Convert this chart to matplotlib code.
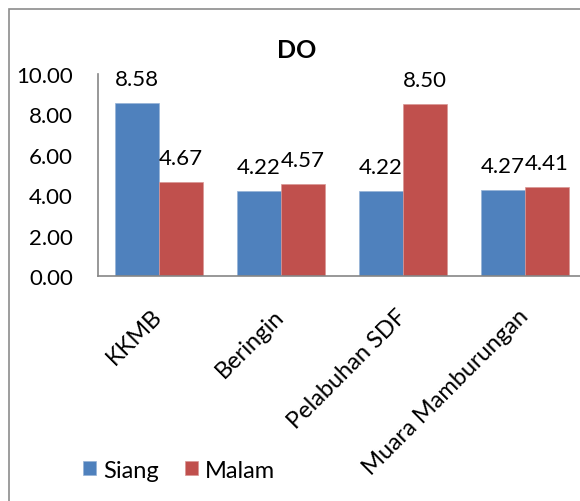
import matplotlib.pyplot as plt
import matplotlib.patches as patches
import numpy as np

plt.rcParams['font.family'] = ['Lato', 'DejaVu Sans']

lokasi = ['KKMB', 'Beringin', 'Pelabuhan SDF', 'Muara Mamburungan']
siang = [8.58, 4.22, 4.22, 4.27]
malam = [4.67, 4.57, 8.50, 4.41]
yticks = [0, 2, 4, 6, 8, 10]

W, H = 580, 502
fig = plt.figure(figsize=(W / 100, H / 100), dpi=100)

# chart frame (cut off on the right and bottom)
frame = patches.Rectangle((9 / W, -0.1), 1.2, 1.1 - 10 / H,
                          transform=fig.transFigure, fill=False,
                          edgecolor='#8c8c8c', linewidth=1.2)
fig.patches.append(frame)

ax = fig.add_axes([98 / W, (H - 277) / H, 488 / W, 202 / H])

x = np.arange(len(lokasi))
w = 0.36
b1 = ax.bar(x - w / 2, siang, w, color='#4F81BD', edgecolor='#95b3d7', linewidth=0.5, label='Siang')
b2 = ax.bar(x + w / 2, malam, w, color='#C0504D', edgecolor='#d99694', linewidth=0.5, label='Malam')

for bars, vals in ((b1, siang), (b2, malam)):
    for bar, v in zip(bars, vals):
        ax.text(bar.get_x() + bar.get_width() / 2, v + 0.7, '%.2f' % v,
                ha='center', va='bottom', fontsize=16)

ax.set_xlim(-0.5, 3.5)
ax.set_ylim(0, 10)
ax.set_yticks(yticks)
ax.set_yticklabels(['%.2f' % t for t in yticks], fontsize=16)
ax.set_xticks(x)
ax.set_xticklabels(lokasi, rotation=45, ha='right', va='center',
                   rotation_mode='anchor', fontsize=17)
ax.tick_params(axis='both', length=0)
ax.tick_params(axis='y', pad=18)
ax.tick_params(axis='x', pad=26)

for s in ('top', 'right'):
    ax.spines[s].set_visible(False)
for s in ('left', 'bottom'):
    ax.spines[s].set_color('#868686')
    ax.spines[s].set_linewidth(1.2)

fig.text(297 / W, 1 - 51 / H, 'DO', ha='center', va='center', fontsize=18, fontweight='bold')

fig.legend(handles=[b1, b2], loc='center left', bbox_to_anchor=(62 / W, 1 - 471 / H),
           ncol=2, frameon=False, fontsize=17, handlelength=0.55, handleheight=0.55,
           handletextpad=0.3, columnspacing=1.1)

fig.savefig('out.png', dpi=100)
